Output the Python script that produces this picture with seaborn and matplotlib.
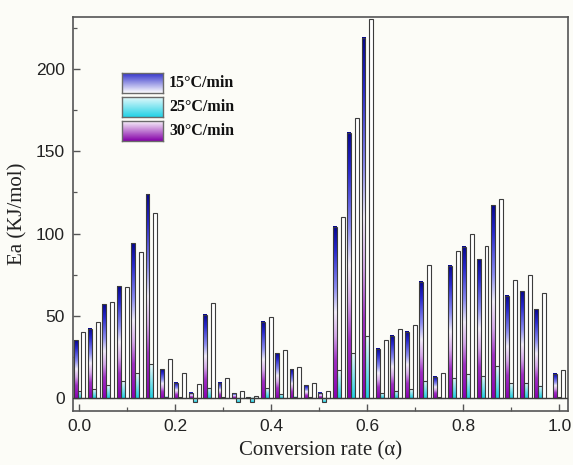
import numpy as np
import pandas as pd
import matplotlib
matplotlib.use("Agg")
import matplotlib.pyplot as plt
from matplotlib.colors import LinearSegmentedColormap
import seaborn as sns

# Conversion rate values (alpha)
alpha = [0.00, 0.03, 0.06, 0.09, 0.12, 0.15, 0.18, 0.21, 0.24, 0.27,
         0.30, 0.33, 0.36, 0.39, 0.42, 0.45, 0.48, 0.51, 0.54, 0.57,
         0.60, 0.63, 0.66, 0.69, 0.72, 0.75, 0.78, 0.81, 0.84, 0.87,
         0.90, 0.93, 0.96, 1.00]

# Activation energy Ea (kJ/mol) for each heating rate
ea_15 = [35.0, 42.0, 57.0, 68.0, 94.0, 124.0, 17.6, 9.3, 3.2, 50.5,
         9.3, 2.8, 0.5, 46.5, 27.2, 17.6, 7.9, 3.2, 104.0, 161.3,
         219.0, 30.0, 37.7, 40.3, 70.7, 13.0, 80.4, 92.0, 84.3, 117.3,
         62.2, 64.8, 53.9, 14.6]
ea_25 = [4.0, 5.3, 7.9, 10.3, 15.0, 20.5, 0.8, 0.6, -2.2, 6.3,
         0.6, -2.2, -2.5, 5.9, 2.2, 0.8, 0.6, -2.2, 17.0, 27.2,
         38.0, 2.8, 4.5, 5.3, 10.5, 0.6, 12.4, 14.6, 13.4, 19.5,
         8.9, 9.3, 7.3, 0.5]
ea_30 = [40.0, 46.0, 58.2, 67.5, 88.8, 112.7, 23.5, 15.2, 8.7, 58.0,
         12.0, 4.5, 1.5, 49.5, 29.2, 19.1, 8.9, 4.3, 110.0, 170.0,
         230.2, 35.0, 41.7, 44.4, 80.9, 15.4, 89.4, 99.5, 92.6, 121.0,
         71.7, 74.8, 63.6, 17.0]

rates = ["15°C/min", "25°C/min", "30°C/min"]

sns.set_theme(style="ticks")
plt.rcParams["font.family"] = ["Liberation Sans", "DejaVu Sans"]

n = len(alpha)
df = pd.DataFrame({
    "alpha": alpha * 3,
    "Ea": ea_15 + ea_25 + ea_30,
    "rate": [rates[0]] * n + [rates[1]] * n + [rates[2]] * n,
})

bg = "#fcfcf7"
edge = "#3c3c3c"
frame = "#555555"

fig = plt.figure(figsize=(5.73, 4.65), dpi=100, facecolor=bg)
ax = fig.add_axes([0.1274, 0.1161, 0.8639, 0.8473], facecolor=bg)

sns.barplot(data=df, x="alpha", y="Ea", hue="rate", hue_order=rates,
            native_scale=True, width=0.82, dodge=True, errorbar=None,
            legend=False, palette=["#3030c0", "#30d0e0", "#ffffff"],
            edgecolor=edge, linewidth=0.8, ax=ax)

# Vertical colour ramps used to fill the bars (bottom -> top)
cmap15 = LinearSegmentedColormap.from_list(
    "ramp15", [(0.0, "#8c00b4"), (0.22, "#a030c4"), (0.36, "#d6a8ea"),
               (0.50, "#f3eefa"), (0.64, "#8e8ef2"), (0.86, "#2828cc"),
               (1.0, "#06068f")])
cmap25 = LinearSegmentedColormap.from_list(
    "ramp25", [(0.0, "#1ccfe3"), (1.0, "#f2fcfd")])
grad = np.linspace(0, 1, 256).reshape(-1, 1)


def fill_gradient(patch, cmap):
    x0, y0 = patch.get_x(), patch.get_y()
    w, h = patch.get_width(), patch.get_height()
    lo, hi = min(y0, y0 + h), max(y0, y0 + h)
    if hi - lo <= 0:
        return
    ax.imshow(grad, cmap=cmap, origin="lower", extent=[x0, x0 + w, lo, hi],
              aspect="auto", interpolation="bilinear",
              zorder=patch.get_zorder() - 0.05)
    patch.set_facecolor("none")


for level, container in zip(rates, ax.containers):
    for patch in container.patches:
        if level == rates[0]:
            fill_gradient(patch, cmap15)
        elif level == rates[1]:
            fill_gradient(patch, cmap25)
        else:
            patch.set_facecolor("#ffffff")

ax.axhline(0, color=edge, lw=1.0, zorder=3)

ax.set_xlim(-0.0135, 1.018)
ax.set_ylim(-7.9, 231.6)
ax.set_xticks([0.0, 0.2, 0.4, 0.6, 0.8, 1.0])
ax.set_xticklabels(["0.0", "0.2", "0.4", "0.6", "0.8", "1.0"])
ax.set_xticks([0.1, 0.3, 0.5, 0.7, 0.9], minor=True)
ax.set_yticks([0, 50, 100, 150, 200])
ax.set_yticks([25, 75, 125, 175, 225], minor=True)
ax.tick_params(axis="both", which="major", direction="in", length=5,
               width=1.0, color=frame, labelsize=12.5, labelcolor="#222222",
               pad=6)
ax.tick_params(axis="both", which="minor", direction="in", length=3,
               width=0.9, color=frame)
for s in ax.spines.values():
    s.set_color(frame)
    s.set_linewidth(1.2)

serif = ["Liberation Serif", "DejaVu Serif"]
ax.set_xlabel("Conversion rate (α)", family=serif, fontsize=15, color="#222222",
              labelpad=5)
ax.set_ylabel("Ea (KJ/mol)", family=serif, fontsize=15, color="#222222",
              labelpad=6)

# Legend built from gradient swatches
legend_maps = [
    LinearSegmentedColormap.from_list("leg15", ["#ffffff", "#2828c8"]),
    LinearSegmentedColormap.from_list("leg25", ["#22d2e6", "#eefbfc"]),
    LinearSegmentedColormap.from_list("leg30", ["#8400a8", "#ffffff"]),
]
box_tops = [72.7, 96.7, 120.7]
box_h = 20.5
W, H = 573.0, 465.0
for label, cmap, top in zip(rates, legend_maps, box_tops):
    bax = fig.add_axes([121.7 / W, 1 - (top + box_h) / H, 41.6 / W, box_h / H])
    bax.imshow(grad, cmap=cmap, origin="lower", aspect="auto",
               extent=[0, 1, 0, 1], interpolation="bilinear")
    bax.set_xticks([])
    bax.set_yticks([])
    for s in bax.spines.values():
        s.set_color("#6a6a6a")
        s.set_linewidth(1.0)
    fig.text(169 / W, 1 - (top + box_h / 2) / H, label, family=serif,
             fontweight="bold", fontsize=11.5, color="#111111", va="center",
             ha="left")

fig.savefig("out.png", dpi=100, facecolor=bg)
